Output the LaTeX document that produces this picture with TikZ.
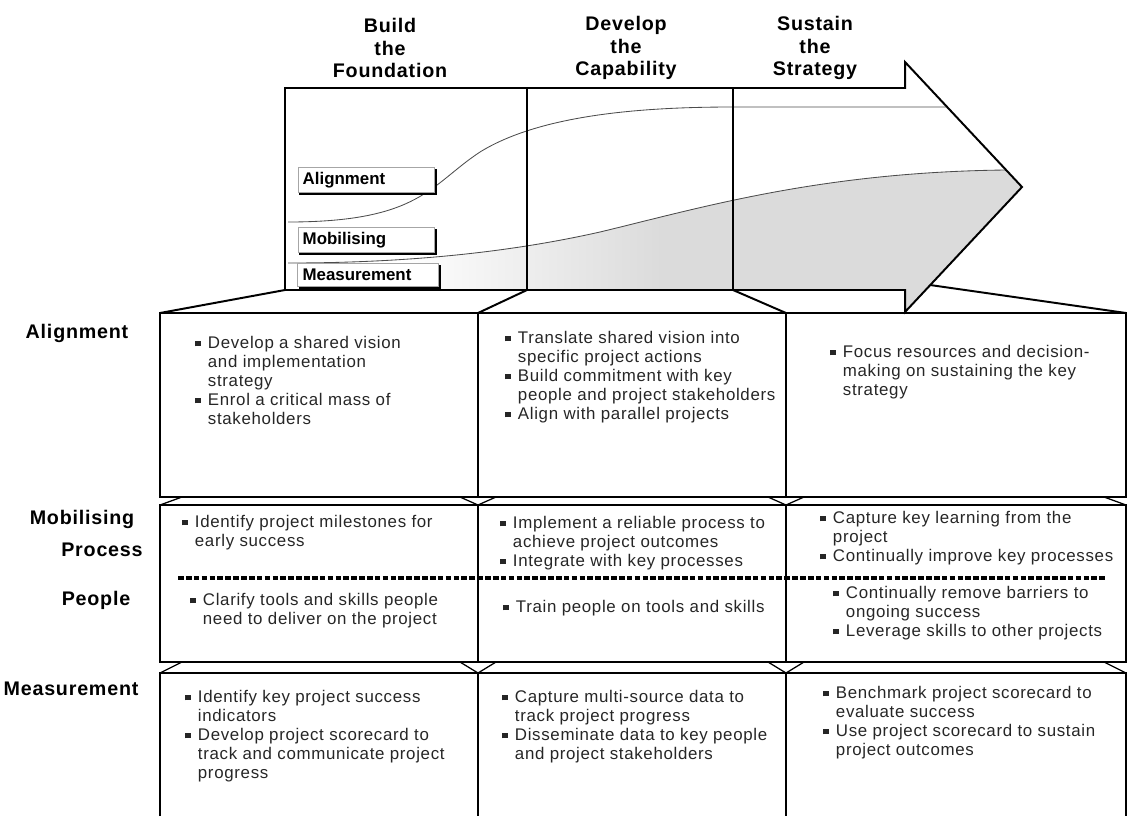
\documentclass[tikz,border=0pt]{standalone}
\usepackage{fontspec}
\setmainfont{Liberation Sans}
\newfontfamily\headfont[LetterSpace=4]{Liberation Sans}
\newfontfamily\bodyfont[LetterSpace=4]{Liberation Sans}
\usetikzlibrary{shadows}
\newcommand\bl{\makebox[9pt][l]{\rule[1.6pt]{3.8pt}{3.8pt}}}

\tikzset{
  outline/.style={line width=1.4pt, line join=miter},
  heading/.style={font=\headfont\bfseries\fontsize{14}{16.2}\selectfont, align=center},
  rowlabel/.style={font=\headfont\bfseries\fontsize{14}{16.2}\selectfont},
  tag/.style={draw=black!35, thin, fill=white, text width=90pt, inner xsep=3.5pt,
    minimum height=16pt, align=left, font=\bfseries\fontsize{12}{14}\selectfont,
    copy shadow={shadow xshift=1.3pt, shadow yshift=-1.3pt, fill=black, draw=black}},
  celltext/.style={anchor=north west, inner sep=0pt, text=black!85,
    font=\bodyfont\fontsize{12}{13.5}\selectfont},
  curve/.style={black!70, line width=0.6pt}
}

\begin{document}
\begin{tikzpicture}[x=0.025cm, y=-0.025cm]
\useasboundingbox (0,0) rectangle (1128,816);

% headings above the arrow
\node[heading] (build) at (390,48) {Build\\the\\Foundation};
\node[heading] (develop) at (626,48) {Develop\\the\\Capability};
\node[heading] (sustain) at (815,48) {Sustain\\the\\Strategy};

% grey area under the lower curve
\begin{scope}
\clip (288,263) .. controls (420,263) and (520,250) .. (600,232)
  .. controls (700,208) and (820,172) .. (1006,170)
  -- (1022,187) -- (905,312) -- (905,290) -- (285,290) -- (285,263) -- cycle;
\fill[gray!28] (285,60) rectangle (1030,320);
\fill[white] (285,60) rectangle (400,320);
\shade[left color=white, right color=gray!28] (399,60) rectangle (660,320);
\end{scope}

% the two curves
\draw[curve] (288,222) .. controls (420,222) and (430,185) .. (480,152)
  .. controls (540,115) and (640,107) .. (733,107) -- (946,107);
\draw[curve] (288,263) .. controls (420,263) and (520,250) .. (600,232)
  .. controls (700,208) and (820,172) .. (1006,170);

% the arrow
\draw[outline] (285,88) -- (905,88) -- (905,62) -- (1022,187) -- (905,312)
  -- (905,290) -- (285,290) -- cycle;
\draw[outline] (527,88) -- (527,290);
\draw[outline] (733,88) -- (733,290);

% tags inside the arrow
\node[tag] (tagalign) at (366,180) {Alignment};
\node[tag] (tagmob) at (366,240) {Mobilising};
\node[tag, text width=93pt] (tagmeas) at (368,275) {Measurement};

% lines from the arrow down to the table
\draw[outline] (285,290) -- (160,313);
\draw[outline] (527,290) -- (478,313);
\draw[outline] (733,290) -- (786,313);
\draw[outline] (930,285) -- (1126,313);

% table rows
\draw[outline] (160,313) rectangle (1126,497);
\draw[outline] (478,313) -- (478,497);
\draw[outline] (786,313) -- (786,497);
\draw[outline] (160,505) rectangle (1126,662);
\draw[outline] (478,505) -- (478,662);
\draw[outline] (786,505) -- (786,662);
\draw[outline] (160,816) -- (160,673) -- (1126,673) -- (1126,816);
\draw[outline] (478,673) -- (478,816);
\draw[outline] (786,673) -- (786,816);

% small slants between the rows
\foreach \ya/\yb in {497/505, 662/673} {
  \draw[line width=0.9pt] (160,\yb) -- (182,\ya);
  \draw[line width=0.9pt] (460,\ya) -- (478,\yb) -- (496,\ya);
  \draw[line width=0.9pt] (768,\ya) -- (786,\yb) -- (804,\ya);
  \draw[line width=0.9pt] (1126,\yb) -- (1104,\ya);
}

% process / people divider
\draw[line width=2.2pt, dash pattern=on 4pt off 1.6pt] (178,578) -- (1105,578);

% row labels
\node[rowlabel] (lalign) at (77,333) {Alignment};
\node[rowlabel] (lmob) at (82,519) {Mobilising};
\node[rowlabel] (lproc) at (102,550) {Process};
\node[rowlabel] (lpeople) at (96,600) {People};
\node[rowlabel] (lmeas) at (71,689) {Measurement};

% alignment row
\node[celltext] (a1) at (195,335) {\begin{tabular}{@{}l@{}l@{}}
\bl & Develop a shared vision\\ & and implementation\\ & strategy\\
\bl & Enrol a critical mass of\\ & stakeholders\end{tabular}};
\node[celltext] (a2) at (505,330) {\begin{tabular}{@{}l@{}l@{}}
\bl & Translate shared vision into\\ & specific project actions\\
\bl & Build commitment with key\\ & people and project stakeholders\\
\bl & Align with parallel projects\end{tabular}};
\node[celltext] (a3) at (830,344) {\begin{tabular}{@{}l@{}l@{}}
\bl & Focus resources and decision-\\ & making on sustaining the key\\
 & strategy\end{tabular}};

% mobilising row
\node[celltext] (m1) at (182,514) {\begin{tabular}{@{}l@{}l@{}}
\bl & Identify project milestones for\\ & early success\end{tabular}};
\node[celltext] (p1) at (190,592) {\begin{tabular}{@{}l@{}l@{}}
\bl & Clarify tools and skills people\\ & need to deliver on the project\end{tabular}};
\node[celltext] (m2) at (500,515) {\begin{tabular}{@{}l@{}l@{}}
\bl & Implement a reliable process to\\ & achieve project outcomes\\
\bl & Integrate with key processes\end{tabular}};
\node[celltext] (p2) at (503,599) {\begin{tabular}{@{}l@{}l@{}}
\bl & Train people on tools and skills\end{tabular}};
\node[celltext] (m3) at (820,510) {\begin{tabular}{@{}l@{}l@{}}
\bl & Capture key learning from the\\ & project\\
\bl & Continually improve key processes\end{tabular}};
\node[celltext] (p3) at (833,585) {\begin{tabular}{@{}l@{}l@{}}
\bl & Continually remove barriers to\\ & ongoing success\\
\bl & Leverage skills to other projects\end{tabular}};

% measurement row
\node[celltext] (e1) at (185,689) {\begin{tabular}{@{}l@{}l@{}}
\bl & Identify key project success\\ & indicators\\
\bl & Develop project scorecard to\\ & track and communicate project\\ & progress\end{tabular}};
\node[celltext] (e2) at (502,689) {\begin{tabular}{@{}l@{}l@{}}
\bl & Capture multi-source data to\\ & track project progress\\
\bl & Disseminate data to key people\\ & and project stakeholders\end{tabular}};
\node[celltext] (e3) at (823,685) {\begin{tabular}{@{}l@{}l@{}}
\bl & Benchmark project scorecard to\\ & evaluate success\\
\bl & Use project scorecard to sustain\\ & project outcomes\end{tabular}};
\end{tikzpicture}
\end{document}
